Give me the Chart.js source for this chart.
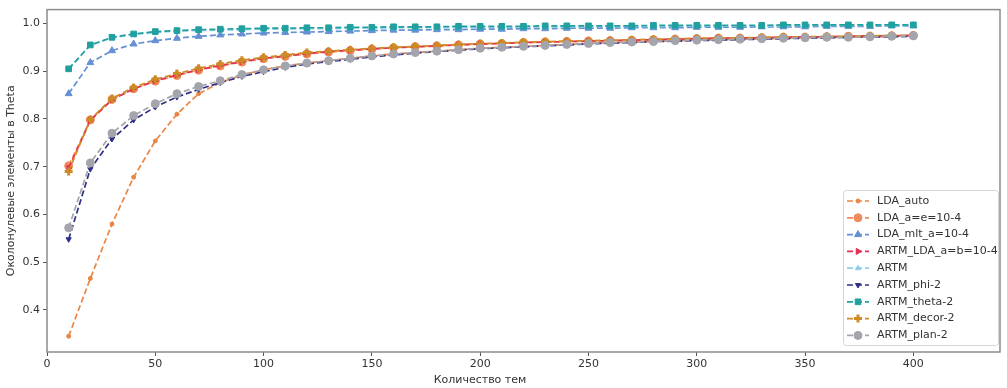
<!DOCTYPE html>
<html>
<head>
<meta charset="utf-8">
<script src="https://cdn.jsdelivr.net/npm/chart.js@4/dist/chart.umd.min.js"></script>
<style>
  html, body { margin: 0; padding: 0; background: #fff; }
  #wrap { width: 1007px; height: 388px; position: relative; }
</style>
</head>
<body>
<div id="wrap"><canvas id="chart"></canvas></div>
<script>
// number of topics: 10 .. 400
const topics = [10, 20, 30, 40, 50, 60, 70, 80, 90, 100, 110, 120, 130, 140, 150, 160, 170, 180, 190, 200,
  210, 220, 230, 240, 250, 260, 270, 280, 290, 300, 310, 320, 330, 340, 350, 360, 370, 380, 390, 400];

const ldaAuto = [0.345, 0.466, 0.580, 0.678, 0.754, 0.810, 0.853, 0.876, 0.892, 0.903, 0.911, 0.917, 0.922, 0.927, 0.932, 0.936, 0.939, 0.942, 0.945, 0.948,
  0.950, 0.952, 0.954, 0.956, 0.958, 0.960, 0.961, 0.962, 0.964, 0.965, 0.966, 0.967, 0.968, 0.969, 0.970, 0.971, 0.971, 0.972, 0.973, 0.974];
const ldaAE = [0.702, 0.798, 0.841, 0.863, 0.879, 0.891, 0.902, 0.911, 0.919, 0.926, 0.931, 0.936, 0.940, 0.943, 0.946, 0.949, 0.951, 0.953, 0.955, 0.957,
  0.958, 0.960, 0.961, 0.962, 0.963, 0.964, 0.965, 0.966, 0.967, 0.968, 0.969, 0.969, 0.970, 0.971, 0.971, 0.972, 0.973, 0.973, 0.974, 0.975];
const ldaMlt = [0.853, 0.918, 0.943, 0.957, 0.964, 0.969, 0.973, 0.976, 0.978, 0.980, 0.981, 0.982, 0.983, 0.984, 0.985, 0.986, 0.986, 0.987, 0.987, 0.988,
  0.988, 0.989, 0.989, 0.990, 0.990, 0.990, 0.991, 0.991, 0.991, 0.992, 0.992, 0.992, 0.993, 0.993, 0.993, 0.994, 0.994, 0.994, 0.995, 0.995];
const artmLda = [0.697, 0.797, 0.840, 0.863, 0.880, 0.892, 0.903, 0.912, 0.920, 0.927, 0.932, 0.937, 0.941, 0.944, 0.947, 0.949, 0.951, 0.953, 0.955, 0.957,
  0.958, 0.960, 0.961, 0.962, 0.963, 0.964, 0.965, 0.966, 0.967, 0.968, 0.969, 0.970, 0.970, 0.971, 0.972, 0.972, 0.973, 0.974, 0.974, 0.975];
const artm = [0.904, 0.954, 0.970, 0.977, 0.981, 0.984, 0.985, 0.986, 0.987, 0.988, 0.988, 0.989, 0.989, 0.990, 0.990, 0.991, 0.991, 0.991, 0.992, 0.992,
  0.992, 0.993, 0.993, 0.993, 0.993, 0.994, 0.994, 0.994, 0.994, 0.995, 0.995, 0.995, 0.995, 0.995, 0.996, 0.996, 0.996, 0.996, 0.996, 0.996];
const artmPhi = [0.548, 0.695, 0.758, 0.798, 0.825, 0.846, 0.862, 0.876, 0.889, 0.899, 0.908, 0.915, 0.920, 0.925, 0.930, 0.934, 0.938, 0.941, 0.944, 0.947,
  0.949, 0.951, 0.953, 0.955, 0.957, 0.959, 0.960, 0.962, 0.963, 0.964, 0.965, 0.966, 0.967, 0.968, 0.969, 0.970, 0.971, 0.972, 0.972, 0.973];
const artmTheta = [0.905, 0.955, 0.971, 0.978, 0.983, 0.985, 0.987, 0.988, 0.989, 0.990, 0.990, 0.991, 0.991, 0.992, 0.992, 0.993, 0.993, 0.993, 0.994, 0.994,
  0.994, 0.994, 0.995, 0.995, 0.995, 0.995, 0.995, 0.996, 0.996, 0.996, 0.996, 0.996, 0.996, 0.997, 0.997, 0.997, 0.997, 0.997, 0.997, 0.997];
const artmDecor = [0.690, 0.799, 0.843, 0.866, 0.883, 0.895, 0.906, 0.915, 0.923, 0.929, 0.934, 0.939, 0.942, 0.945, 0.948, 0.950, 0.952, 0.954, 0.956, 0.958,
  0.959, 0.961, 0.962, 0.963, 0.964, 0.965, 0.966, 0.967, 0.968, 0.969, 0.970, 0.970, 0.971, 0.972, 0.972, 0.973, 0.973, 0.974, 0.975, 0.975];
const artmPlan = [0.572, 0.708, 0.770, 0.807, 0.832, 0.853, 0.868, 0.880, 0.893, 0.903, 0.911, 0.917, 0.922, 0.927, 0.932, 0.936, 0.939, 0.942, 0.945, 0.948,
  0.950, 0.952, 0.954, 0.956, 0.958, 0.960, 0.961, 0.962, 0.964, 0.965, 0.966, 0.967, 0.968, 0.969, 0.970, 0.971, 0.971, 0.972, 0.973, 0.974];

const yTicks = [0.4, 0.5, 0.6, 0.7, 0.8, 0.9, 1.0];
const xTicks = [0, 50, 100, 150, 200, 250, 300, 350, 400];

const FONT = "'DejaVu Sans', sans-serif";

function series(label, values, color, style, radius, rotation) {
  return {
    label: label,
    data: topics.map((t, i) => ({ x: t, y: values[i] })),
    borderColor: color,
    backgroundColor: color,
    borderWidth: 1.7,
    borderDash: [6, 3],
    pointStyle: style,
    pointRadius: radius,
    pointRotation: rotation || 0,
    pointBorderWidth: style === 'cross' ? 3 : 1,
    pointBorderColor: color,
    pointBackgroundColor: color,
    fill: false,
    tension: 0
  };
}

const datasets = [
  series('LDA_auto', ldaAuto, '#ea8544', 'circle', 2),
  series('LDA_a=e=10-4', ldaAE, '#ef8b5c', 'circle', 4),
  series('LDA_mlt_a=10-4', ldaMlt, '#6490d4', 'triangle', 4),
  series('ARTM_LDA_a=b=10-4', artmLda, '#e62e55', 'triangle', 3.5, 90),
  series('ARTM', artm, '#8fd0e8', 'triangle', 3),
  series('ARTM_phi-2', artmPhi, '#2f3088', 'triangle', 3, 180),
  series('ARTM_theta-2', artmTheta, '#21a0a0', 'rect', 4),
  series('ARTM_decor-2', artmDecor, '#cc8b24', 'cross', 4),
  series('ARTM_plan-2', artmPlan, '#a4a4ac', 'circle', 4)
];
// later series on top, like matplotlib
datasets.forEach((d, i) => { d.order = datasets.length - i; });

// frame, axis titles and the legend box inside the plot
const decor = {
  id: 'decor',
  afterDraw(chart) {
    const ctx = chart.ctx;
    const a = chart.chartArea;
    ctx.save();
    ctx.strokeStyle = '#8c8c8c';
    ctx.lineWidth = 1.5;
    ctx.strokeRect(a.left, a.top, a.right - a.left, a.bottom - a.top);

    ctx.fillStyle = '#333';
    ctx.font = '11px ' + FONT;
    ctx.textAlign = 'center';
    ctx.textBaseline = 'middle';
    ctx.fillText('Количество тем', 480, 380);
    ctx.translate(11, (a.top + a.bottom) / 2);
    ctx.rotate(-Math.PI / 2);
    ctx.fillText('Околонулевые элементы в Theta', 0, 0);
    ctx.restore();

    // legend
    const bx = 843, by = 190, bw = 155, bh = 155, step = 16.8;
    ctx.save();
    ctx.fillStyle = 'rgba(255,255,255,0.85)';
    ctx.strokeStyle = '#d6d6d6';
    ctx.lineWidth = 1;
    ctx.beginPath();
    ctx.roundRect(bx + 0.5, by + 0.5, bw, bh, 3);
    ctx.fill();
    ctx.stroke();
    chart.data.datasets.forEach((d, i) => {
      const cy = by + 11 + i * step;
      ctx.strokeStyle = d.borderColor;
      ctx.lineWidth = 1.7;
      ctx.setLineDash([6, 3]);
      ctx.beginPath();
      ctx.moveTo(bx + 4, cy);
      ctx.lineTo(bx + 26, cy);
      ctx.stroke();
      ctx.setLineDash([]);
      ctx.fillStyle = d.pointBackgroundColor;
      ctx.strokeStyle = d.pointBorderColor;
      ctx.lineWidth = d.pointBorderWidth;
      Chart.helpers.drawPoint(ctx, {
        pointStyle: d.pointStyle,
        radius: d.pointRadius,
        rotation: d.pointRotation,
        borderWidth: d.pointBorderWidth
      }, bx + 15, cy);
      ctx.fillStyle = '#333';
      ctx.font = '11px ' + FONT;
      ctx.textAlign = 'left';
      ctx.textBaseline = 'middle';
      ctx.fillText(d.label, bx + 34, cy);
    });
    ctx.restore();
  }
};

new Chart(document.getElementById('chart'), {
  type: 'line',
  data: { datasets: datasets },
  options: {
    responsive: true,
    maintainAspectRatio: false,
    animation: false,
    layout: { padding: { top: 3, right: 4, left: 0, bottom: 0 } },
    plugins: {
      legend: { display: false },
      tooltip: { enabled: false }
    },
    scales: {
      x: {
        type: 'linear',
        min: 0,
        max: 440,
        afterFit: (s) => { s.height = 36; },
        afterBuildTicks: (s) => { s.ticks = xTicks.map(v => ({ value: v })); },
        border: { display: false },
        grid: { drawOnChartArea: false, drawTicks: true, tickLength: 4, color: '#555' },
        ticks: { color: '#333', font: { family: FONT, size: 11 }, padding: 2, maxRotation: 0 }
      },
      y: {
        type: 'linear',
        min: 0.312,
        max: 1.029,
        afterFit: (s) => { s.width = 47; },
        afterBuildTicks: (s) => { s.ticks = yTicks.map(v => ({ value: v })); },
        border: { display: false },
        grid: { drawOnChartArea: false, drawTicks: true, tickLength: 4, color: '#555' },
        ticks: { color: '#333', font: { family: FONT, size: 11 }, padding: 3, callback: (v) => v.toFixed(1) }
      }
    }
  },
  plugins: [decor]
});
</script>
</body>
</html>
